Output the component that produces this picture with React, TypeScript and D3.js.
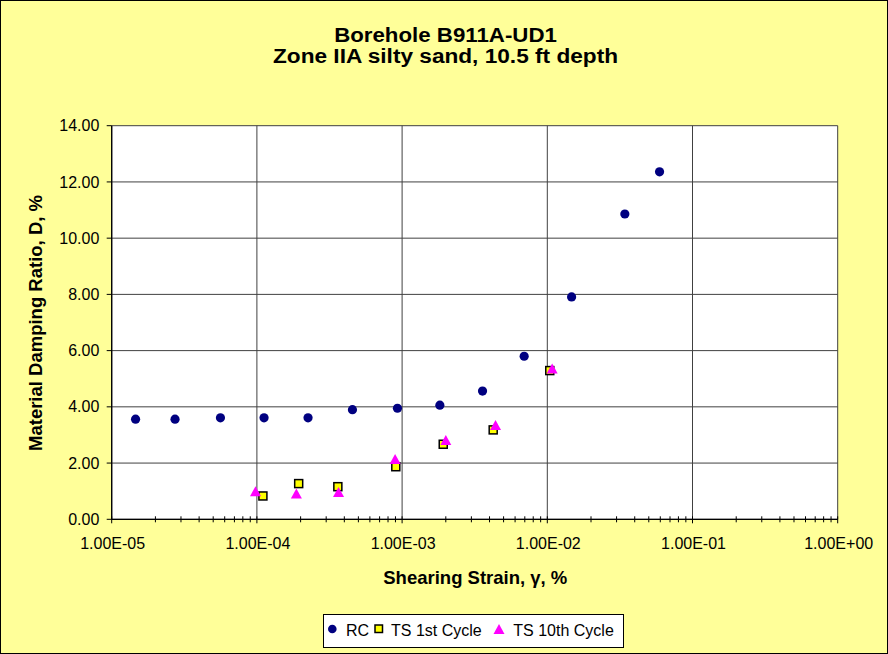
import React from "react";
import * as d3 from "d3";

const rcStrain = [1.46e-5, 2.73e-5, 5.61e-5, 1.12e-4, 2.25e-4, 4.55e-4, 9.29e-4, 1.82e-3, 3.58e-3, 6.93e-3, 1.47e-2, 3.42e-2, 5.93e-2];
const rcDamping = [3.56, 3.56, 3.61, 3.61, 3.61, 3.9, 3.95, 4.06, 4.56, 5.8, 7.91, 10.86, 12.36];

const ts1Strain = [1.1e-4, 1.94e-4, 3.61e-4, 9.05e-4, 1.92e-3, 4.24e-3, 1.04e-2];
const ts1Damping = [0.83, 1.27, 1.16, 1.87, 2.67, 3.18, 5.29];

const ts10Strain = [9.78e-5, 1.87e-4, 3.65e-4, 8.95e-4, 2.0e-3, 4.4e-3, 1.08e-2];
const ts10Damping = [0.98, 0.9, 0.95, 2.13, 2.8, 3.34, 5.35];

const xTickValues = [1e-5, 1e-4, 1e-3, 1e-2, 1e-1, 1];
const xTickLabels = ["1.00E-05", "1.00E-04", "1.00E-03", "1.00E-02", "1.00E-01", "1.00E+00"];
const yTickValues = [0, 2, 4, 6, 8, 10, 12, 14];

const titleLines = ["Borehole B911A-UD1", "Zone IIA silty sand, 10.5 ft depth"];
const xTitle = "Shearing Strain, \u03b3, %";
const yTitle = "Material Damping Ratio, D, %";
const seriesNames = ["RC", "TS 1st Cycle", "TS 10th Cycle"];

const W = 888;
const H = 654;
const font = "'Liberation Sans', Arial, Helvetica, sans-serif";

export default function App() {
  const x = d3.scaleLog().domain([1e-5, 1]).range([111.7, 837.7]);
  const y = d3.scaleLinear().domain([0, 14]).range([519.3, 125.7]);
  const fmtY = d3.format(".2f");

  const minorTicks: number[] = [];
  for (let e = -5; e < 0; e++) {
    for (let m = 2; m <= 9; m++) minorTicks.push(m * Math.pow(10, e));
  }

  const tri = (cx: number, cy: number) =>
    `M${cx},${cy - 5.5}L${cx + 5.5},${cy + 4.5}L${cx - 5.5},${cy + 4.5}Z`;

  const x0 = x.range()[0];
  const x1 = x.range()[1];
  const yb = y.range()[0];
  const yt = y.range()[1];

  return (
    <svg width={W} height={H} style={{ position: "absolute", left: 0, top: 0 }} fontFamily={font}>
      <rect x={0.5} y={0.5} width={W - 1} height={H - 1} fill="#FFFF99" stroke="#000" strokeWidth={1} />
      {titleLines.map((t, i) => (
        <text key={i} x={445.5} y={42.3 + i * 21} textAnchor="middle" fontSize={20} fontWeight="bold"
          textLength={i === 0 ? 222.7 : 345} lengthAdjust="spacingAndGlyphs">{t}</text>
      ))}
      <rect x={x0} y={yt} width={x1 - x0} height={yb - yt} fill="#fff" />
      {yTickValues.map((v) => (
        <line key={"gy" + v} x1={x0} x2={x1} y1={y(v)} y2={y(v)} stroke="#404040" strokeWidth={1} />
      ))}
      {xTickValues.map((v) => (
        <line key={"gx" + v} x1={x(v)} x2={x(v)} y1={yt} y2={yb} stroke="#404040" strokeWidth={1} />
      ))}
      <line x1={x0} x2={x0} y1={yt} y2={yb} stroke="#000" strokeWidth={1.3} />
      <line x1={x0} x2={x1} y1={yb} y2={yb} stroke="#000" strokeWidth={1.3} />
      {yTickValues.map((v) => (
        <g key={"ty" + v}>
          <line x1={x0 - 5} x2={x0} y1={y(v)} y2={y(v)} stroke="#000" />
          <text x={99.3} y={y(v) + 5.6} textAnchor="end" fontSize={16}>{fmtY(v)}</text>
        </g>
      ))}
      {minorTicks.map((v, i) => (
        <line key={"mx" + i} x1={x(v)} x2={x(v)} y1={yb - 3} y2={yb + 3} stroke="#000" />
      ))}
      {xTickValues.map((v, i) => (
        <g key={"tx" + v}>
          <line x1={x(v)} x2={x(v)} y1={yb - 3} y2={yb + 4} stroke="#000" />
          <text x={x(v) + 1} y={549.3} textAnchor="middle" fontSize={16}>{xTickLabels[i]}</text>
        </g>
      ))}
      <text x={475.3} y={584} textAnchor="middle" fontSize={18.5} fontWeight="bold">{xTitle}</text>
      <text transform={`translate(41.7,323) rotate(-90)`} textAnchor="middle" fontSize={18.5} fontWeight="bold">{yTitle}</text>

      {rcStrain.map((s, i) => (
        <circle key={"rc" + i} cx={x(s)} cy={y(rcDamping[i])} r={4.6} fill="#000080" />
      ))}
      {ts1Strain.map((s, i) => (
        <rect key={"t1" + i} x={x(s) - 4} y={y(ts1Damping[i]) - 4} width={8} height={8} fill="#FFFF00" stroke="#000" strokeWidth={1.5} />
      ))}
      {ts10Strain.map((s, i) => (
        <path key={"t10" + i} d={tri(x(s), y(ts10Damping[i]))} fill="#FF00FF" />
      ))}

      <rect x={323.5} y={614.5} width={300} height={33} fill="#fff" stroke="#000" strokeWidth={1} />
      <circle cx={332.3} cy={629} r={4.3} fill="#000080" />
      <text x={346} y={635.5} fontSize={16}>{seriesNames[0]}</text>
      <rect x={375} y={625} width={7.5} height={7.5} fill="#FFFF00" stroke="#000" strokeWidth={1.5} />
      <text x={391} y={635.5} fontSize={16}>{seriesNames[1]}</text>
      <path d={tri(499, 629.5)} fill="#FF00FF" />
      <text x={513.3} y={635.5} fontSize={16}>{seriesNames[2]}</text>
    </svg>
  );
}
